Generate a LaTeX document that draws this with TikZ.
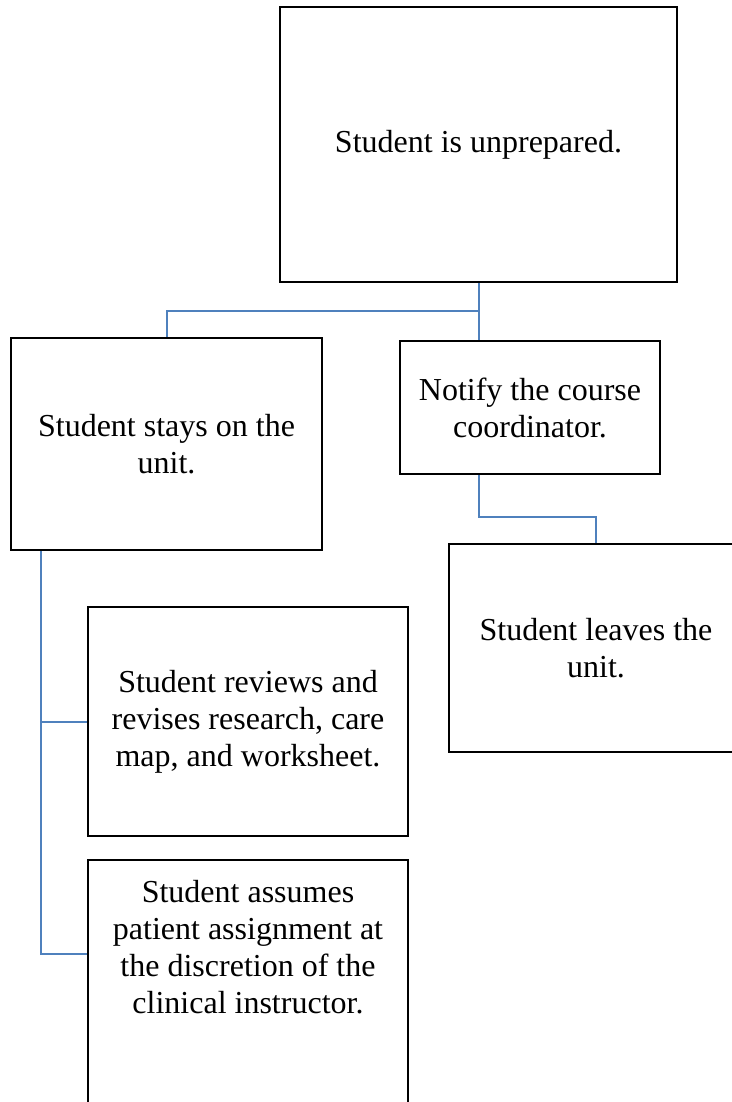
\documentclass[tikz,border=0pt]{standalone}
\usepackage{fontspec}
\setmainfont{Liberation Serif}
\usepackage{tikz}
\usetikzlibrary{calc}
\definecolor{linkblue}{HTML}{4F81BD}

\begin{document}
\begin{tikzpicture}[x=0.5pt,y=-0.5pt]
    \tikzstyle{box}=[draw=black, line width=1.3pt, align=center
    , inner sep=0pt, font=\fontsize{16}{18.5}\selectfont]
    \tikzstyle{link}=[draw=linkblue, line width=1pt]
    \useasboundingbox (0,0) rectangle (732,1102);
    \clip (0,0) rectangle (732,1102);
    % Draw the boxes
    \node[box, minimum width=198.5pt, minimum height=137.5pt] (unprep) at (478.5,144.5) {Student is unprepared.};
    \node[box, minimum width=155.5pt, minimum height=106pt] (stays) at (166.5,444) {Student stays on the\\unit.};
    \node[box, minimum width=130pt, minimum height=66.5pt] (notify) at (530,407.5) {Notify the course\\coordinator.};
    \node[box, minimum width=147pt, minimum height=104pt] (leaves) at (596,648) {Student leaves the\\unit.};
    \node[box, minimum width=160pt, minimum height=114.5pt] (reviews) at (248,721.5) {Student reviews and\\revises research, care\\map, and worksheet.};
    \node[box, minimum width=160pt, minimum height=130pt] (assumes) at (248,990) {};
    \node[font=\fontsize{16}{18.5}\selectfont, align=center] (assumestext) at (248,947) {Student assumes\\patient assignment at\\the discretion of the\\clinical instructor.};
    % Draw the connectors
    \draw[link] (unprep.south) -- (unprep.south |- notify.north);
    \draw[link] (stays.north) |- ($(unprep.south)+(0,28)$);
    \draw[link] (unprep.south |- notify.south) -- ++(0,42) -| (leaves.north);
    \draw[link] ($(stays.south west)+(31,0)$) |- (reviews.west);
    \draw[link] ($(stays.south west)+(31,0)$) |- ($(assumes.north west)+(0,95)$);
\end{tikzpicture}
\end{document}
